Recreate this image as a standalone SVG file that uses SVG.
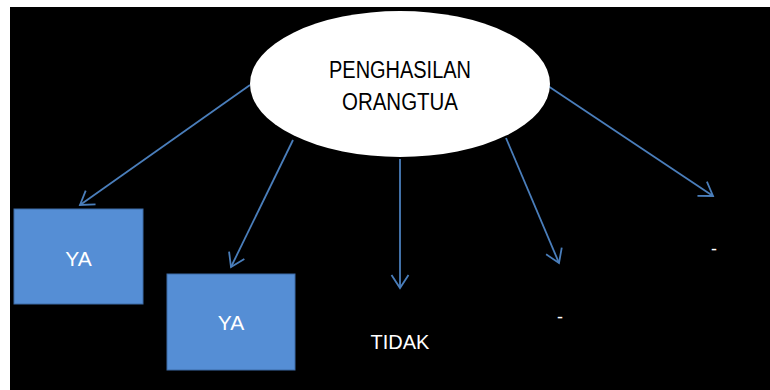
<svg xmlns="http://www.w3.org/2000/svg" width="770" height="390" viewBox="0 0 770 390">
  <style>
    .txt { font-family: "Liberation Sans", Arial, sans-serif; }
    .link { stroke: #4a7ebb; stroke-width: 1.8; fill: none; marker-end: url(#arrow); }
    .box { fill: #558ed5; stroke: #3c6aa5; stroke-width: 1; }
  </style>
  <defs>
    <marker id="arrow" markerUnits="userSpaceOnUse" markerWidth="20" markerHeight="20" viewBox="-15 -10 17 20" refX="0" refY="0" orient="auto" overflow="visible">
      <path d="M-13,-8.5 L0,0 L-13,8.5" fill="none" stroke="#4a7ebb" stroke-width="1.8" stroke-linejoin="miter"/>
    </marker>
  </defs>

  <!-- page -->
  <rect x="0" y="0" width="770" height="390" fill="#ffffff"/>
  <rect x="10" y="7" width="760" height="383" fill="#000000"/>

  <!-- connectors -->
  <g id="connectors">
    <line class="link" x1="250" y1="85" x2="80" y2="205"/>
    <line class="link" x1="293" y1="140" x2="231" y2="267"/>
    <line class="link" x1="400" y1="159" x2="400" y2="288"/>
    <line class="link" x1="506" y1="138" x2="559" y2="263"/>
    <line class="link" x1="548" y1="86" x2="713" y2="196"/>
  </g>

  <!-- central node -->
  <g id="penghasilan">
    <ellipse cx="400" cy="84" rx="150" ry="73" fill="#ffffff"/>
    <text class="txt" x="400" y="78" font-size="23" text-anchor="middle" fill="#000000" textLength="142" lengthAdjust="spacingAndGlyphs">PENGHASILAN</text>
    <text class="txt" x="400" y="110" font-size="23" text-anchor="middle" fill="#000000" textLength="116" lengthAdjust="spacingAndGlyphs">ORANGTUA</text>
  </g>

  <g id="ya1">
    <rect class="box" x="14" y="209" width="129" height="95"/>
    <text class="txt" x="78.5" y="266" font-size="21" text-anchor="middle" fill="#ffffff">YA</text>
  </g>

  <g id="ya2">
    <rect class="box" x="167" y="274" width="128" height="96"/>
    <text class="txt" x="231" y="330" font-size="21" text-anchor="middle" fill="#ffffff">YA</text>
  </g>

  <g id="tidak">
    <text class="txt" x="400" y="349" font-size="20" text-anchor="middle" fill="#ffffff">TIDAK</text>
  </g>

  <g id="dash1">
    <text class="txt" x="560" y="323" font-size="18" text-anchor="middle" fill="#ffffff">-</text>
  </g>

  <g id="dash2">
    <text class="txt" x="714" y="255" font-size="18" text-anchor="middle" fill="#ffffff">-</text>
  </g>
</svg>
